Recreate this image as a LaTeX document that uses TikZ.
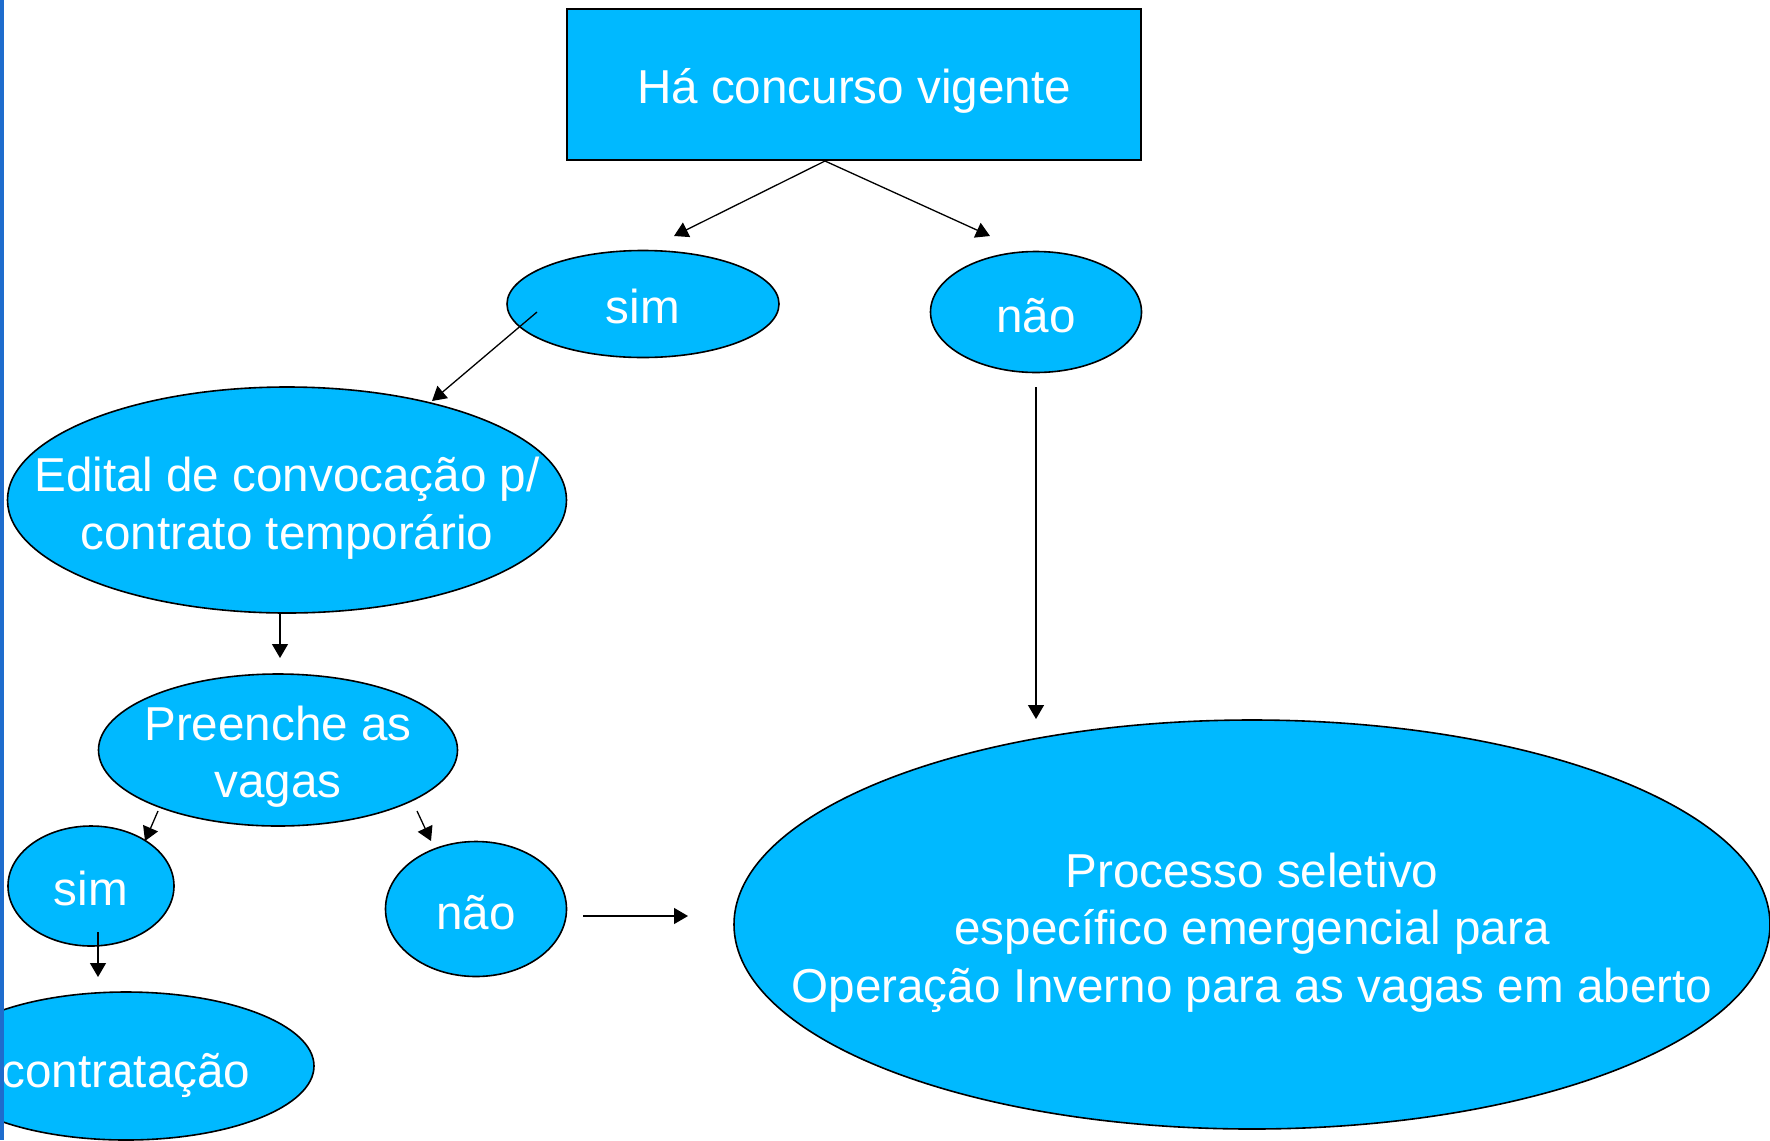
\documentclass[tikz,border=0pt]{standalone}
\usepackage{fontspec}
\setmainfont{Liberation Sans}
\usetikzlibrary{shapes.geometric,arrows.meta}
\definecolor{cyanfill}{RGB}{0,185,255}
\definecolor{barblue}{RGB}{30,108,205}
\begin{document}
\begin{tikzpicture}[x=0.5pt,y=-0.5pt,
  box/.style={draw=black,line width=0.8pt,fill=cyanfill,inner sep=0pt},
  ell/.style={box,ellipse},
  txt/.style={text=white,align=center,font=\fontsize{23.8}{28.8}\selectfont,inner sep=0pt},
  conn/.style={line width=0.65pt,-{Triangle[length=7pt,width=8pt]}}]
\useasboundingbox (0,0) rectangle (1770,1140);
\begin{scope}
\clip (0,0) rectangle (1770,1140);
\node[box,minimum width=287pt,minimum height=75.5pt,label={[txt,yshift=-3.4pt]center:Há concurso vigente}] (rect) at (854,84.5) {};
\node[ell,minimum width=136pt,minimum height=53.5pt,label={[txt,yshift=-1.1pt]center:sim}] (sim1) at (643,304) {};
\node[ell,minimum width=105.5pt,minimum height=60.5pt,label={[txt,yshift=-1.7pt]center:não}] (nao1) at (1036,312) {};
\node[ell,minimum width=279.5pt,minimum height=113pt,label={[txt,yshift=-4.2pt]center:{Edital de convocação p/\\contrato temporário}}] (edital) at (287,500) {};
\node[ell,minimum width=179.5pt,minimum height=76pt,label={[txt,yshift=-3.4pt]center:{Preenche as\\vagas}}] (preenche) at (278,750) {};
\node[ell,minimum width=83pt,minimum height=60pt,label={[txt,yshift=-1.1pt]center:sim}] (sim2) at (91,886) {};
\node[ell,minimum width=90.5pt,minimum height=67.5pt,label={[txt,yshift=-1.7pt]center:não}] (nao2) at (476,909) {};
\node[ell,minimum width=188pt,minimum height=74pt,label={[txt,yshift=-4.5pt]center:contratação}] (contr) at (126,1066) {};
\node[ell,minimum width=518pt,minimum height=204.5pt,label={[txt,yshift=-4pt]center:{Processo seletivo\\específico emergencial para\\Operação Inverno para as vagas em aberto}}] (big) at (1252,924.5) {};

\coordinate (r0) at (825,161);
\coordinate (s1t) at (674,236);
\coordinate (n1t) at (990,236);
\coordinate (s1f) at (537,312);
\coordinate (edt) at (432,401);
\coordinate (edf) at (280,613);
\coordinate (prt) at (280,658);
\coordinate (pf1) at (158,811);
\coordinate (s2t) at (145,841);
\coordinate (pf2) at (417,811);
\coordinate (n2t) at (431,841);
\coordinate (s2f) at (98,932);
\coordinate (ctt) at (98,977);
\coordinate (n2f) at (583,916);
\coordinate (bgt) at (688,916);
\coordinate (n1f) at (1036,387);
\coordinate (bgt2) at (1036,719);

\draw[conn] (r0) -- (s1t);
\draw[conn] (r0) -- (n1t);
\draw[conn] (s1f) -- (edt);
\draw[conn] (edf) -- (prt);
\draw[conn] (pf1) -- (s2t);
\draw[conn] (pf2) -- (n2t);
\draw[conn] (s2f) -- (ctt);
\draw[conn] (n2f) -- (bgt);
\draw[conn] (n1f) -- (bgt2);
\fill[barblue] (0,0) rectangle (4,1140);
\end{scope}
\end{tikzpicture}
\end{document}
